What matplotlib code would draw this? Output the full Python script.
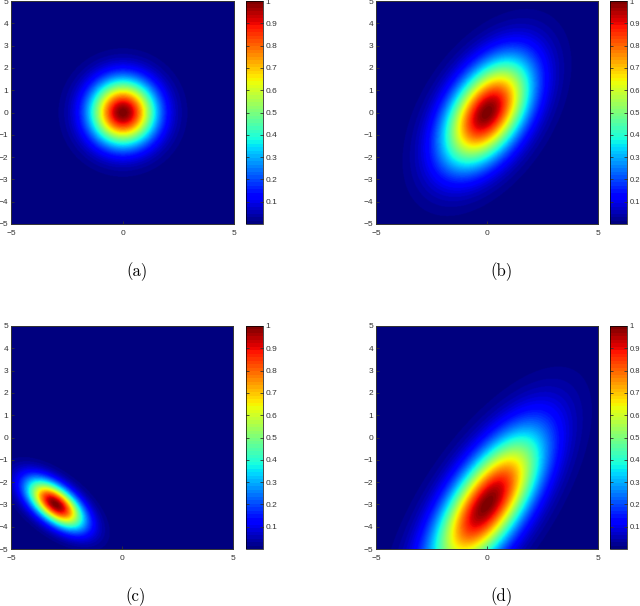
import numpy as np
import matplotlib
matplotlib.use('Agg')
import matplotlib.pyplot as plt

# panel parameters
captions = ['(a)', '(b)', '(c)', '(d)']
means = [[0, 0], [0, 0], [-3, -3], [0, -3]]
covs = [[[1, 0], [0, 1]],
        [[1.75, 1], [1, 2.6]],
        [[0.72, -0.37], [-0.37, 0.54]],
        [[2.7, 2.4], [2.4, 4.6]]]
axis_ticks = [-5, 0, 5]
y_ticks = [-5, -4, -3, -2, -1, 0, 1, 2, 3, 4, 5]
cbar_ticks = [0, 0.1, 0.2, 0.3, 0.4, 0.5, 0.6, 0.7, 0.8, 0.9, 1]
cbar_labels = ['0', '0.1', '0.2', '0.3', '0.4', '0.5', '0.6', '0.7', '0.8', '0.9', '1']

# pixel boxes: left, top, right, bottom
W, H = 640, 606
plot_boxes = [(11, 1, 234, 224), (376, 1, 598, 224), (11, 326, 233, 549), (376, 326, 598, 549)]
cbar_boxes = [(246, 1, 263, 224), (610, 1, 627, 224), (246, 326, 263, 549), (610, 326, 627, 549)]


def to_axes(box):
    l, t, r, b = box
    return [l / W, 1 - b / H, (r - l) / W, (b - t) / H]


plt.rcParams['font.family'] = ['Liberation Sans', 'DejaVu Sans']
fig = plt.figure(figsize=(6.4, 6.06), dpi=100)

x = np.linspace(-5, 5, 401)
X, Y = np.meshgrid(x, x)
cmap = plt.get_cmap('jet', 64)

for i in range(4):
    inv = np.linalg.inv(covs[i])
    dx = X - means[i][0]
    dy = Y - means[i][1]
    Z = np.exp(-0.5 * (inv[0, 0] * dx**2 + 2 * inv[0, 1] * dx * dy + inv[1, 1] * dy**2))

    ax = fig.add_axes(to_axes(plot_boxes[i]))
    zmin = Z.min()
    ax.imshow(Z, extent=[-5, 5, -5, 5], origin='lower', cmap=cmap, vmin=zmin, vmax=1,
              aspect='auto', interpolation='bilinear')
    ax.set_xticks(axis_ticks)
    ax.set_yticks(y_ticks)
    ax.tick_params(direction='in', length=2, width=0.6, labelsize=6, colors='#333333')
    ax.tick_params(axis='x', pad=4)
    ax.tick_params(axis='y', pad=2)
    for s in ax.spines.values():
        s.set_linewidth(0.7)
        s.set_color('#333333')

    cax = fig.add_axes(to_axes(cbar_boxes[i]))
    cb = fig.colorbar(plt.cm.ScalarMappable(norm=plt.Normalize(zmin, 1), cmap=cmap), cax=cax)
    shown = [(t, l) for t, l in zip(cbar_ticks, cbar_labels) if t >= zmin]
    cb.set_ticks([t for t, l in shown])
    cb.set_ticklabels([l for t, l in shown])
    # right column runs into the image edge, slightly smaller labels so they fit
    cax.tick_params(direction='in', length=2, width=0.6, labelsize=6 if i % 2 == 0 else 5.5,
                    pad=2, colors='#333333', left=True, right=True)
    cb.outline.set_linewidth(0.5)

    l, t, r, b = plot_boxes[i]
    fig.text((l + r + 28) / 2 / W, 1 - (b + 48) / H, captions[i], family='cmr10',
             fontsize=12, ha='center', va='center')

fig.savefig('out.png', dpi=100)
